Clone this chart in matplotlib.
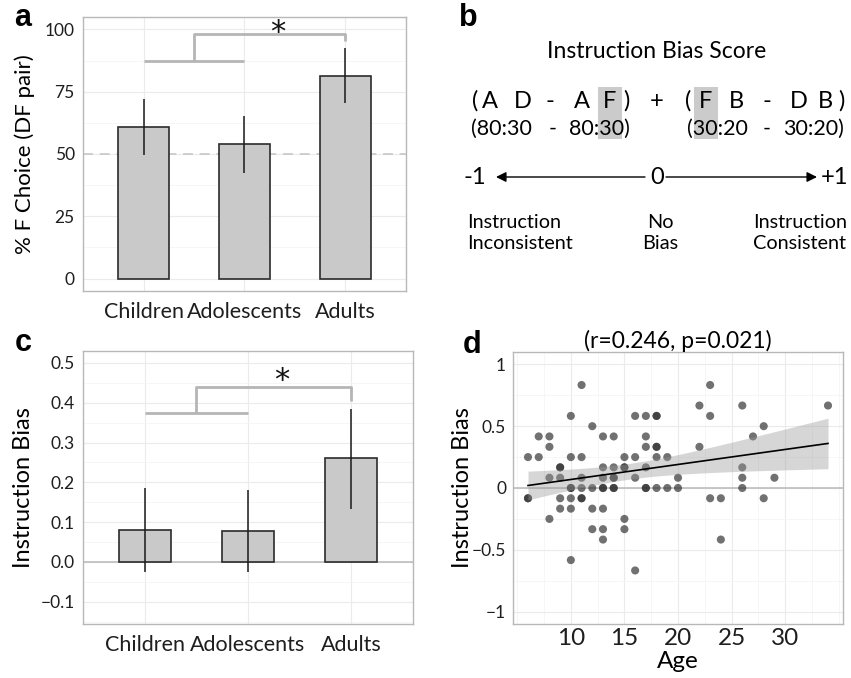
import matplotlib
matplotlib.use("Agg")
import matplotlib.pyplot as plt
from matplotlib.patches import Rectangle
from matplotlib.ticker import MultipleLocator
import numpy as np

plt.rcParams['font.family'] = ['Lato', 'DejaVu Sans']

# data
groups = ["Children", "Adolescents", "Adults"]

# panel a: % F choice (DF pair)
fchoice = [61, 54, 81.4]
fchoice_lo = [49.7, 42.4, 70.5]
fchoice_hi = [72.0, 65.3, 92.4]

# panel c: instruction bias by group
bias_mean = [0.080, 0.077, 0.261]
bias_lo = [-0.025, -0.025, 0.134]
bias_hi = [0.186, 0.180, 0.385]

# panel d: instruction bias vs age (one entry per participant)
age = [6, 6, 6,
       7, 7,
       8, 8, 8, 8,
       9, 9, 9, 9, 9,
       10, 10, 10, 10, 10, 10, 10,
       11, 11, 11, 11, 11, 11,
       12, 12, 12, 12,
       13, 13, 13, 13, 13, 13, 13, 13,
       14, 14, 14, 14, 14, 14,
       15, 15, 15, 15, 15,
       16, 16, 16, 16,
       17, 17, 17, 17, 17, 17,
       18, 18, 18, 18, 18, 18,
       19, 19,
       20, 20,
       22, 22,
       23, 23, 23,
       24, 24,
       26, 26, 26, 26,
       27,
       28, 28,
       29,
       34]
bias = [0.25, -0.083, -0.083,
        0.417, 0.25,
        0.417, 0.333, 0.083, -0.25,
        0.167, 0.167, 0.083, -0.083, -0.167,
        0.583, 0.25, 0.0, 0.0, -0.083, -0.167, -0.583,
        0.833, 0.25, 0.083, 0.0, -0.083, -0.083,
        0.5, 0.0, -0.167, -0.333,
        0.417, 0.167, 0.083, 0.0, 0.0, -0.167, -0.333, -0.417,
        0.417, 0.167, 0.083, 0.083, 0.0, 0.0,
        0.25, 0.167, 0.167, -0.25, -0.333,
        0.583, 0.25, 0.083, -0.667,
        0.583, 0.417, 0.333, 0.167, 0.0, 0.0,
        0.583, 0.583, 0.333, 0.333, 0.25, 0.0,
        0.25, 0.0,
        0.083, 0.0,
        0.667, 0.333,
        0.833, 0.583, -0.083,
        -0.083, -0.417,
        0.667, 0.167, 0.083, 0.0,
        0.417,
        0.5, -0.083,
        0.083,
        0.667]

W, H = 851, 678
fig = plt.figure(figsize=(W / 100, H / 100), dpi=100)


def box(l, t, r, b):
    return [l / W, 1 - b / H, (r - l) / W, (b - t) / H]


def style(ax):
    for s in ax.spines.values():
        s.set_color('#b8b8b8')
        s.set_linewidth(1)
    ax.grid(which='major', color='#ebebeb', lw=0.8)
    ax.grid(which='minor', color='#f5f5f5', lw=0.6)
    ax.set_axisbelow(True)
    ax.tick_params(which='both', length=0, colors='#1e1e1e')


def group_bars(ax, vals, lo, hi):
    x = np.arange(1, len(vals) + 1)
    ax.bar(x, vals, width=0.5, color='#c9c9c9', edgecolor='#2b2b2b', lw=1.2, zorder=2)
    err = [np.array(vals) - np.array(lo), np.array(hi) - np.array(vals)]
    ax.errorbar(x, vals, yerr=err, fmt='none', ecolor='#1a1a1a', elinewidth=1.1,
                capsize=0, zorder=3)
    ax.set_xlim(0.4, 3.6)
    ax.set_xticks(x)
    ax.set_xticklabels(groups, fontsize=15.5)
    ax.xaxis.set_minor_locator(MultipleLocator(1))
    ax.tick_params(axis='x', which='both', pad=8)
    ax.tick_params(axis='x', which='minor', labelbottom=False)
    ax.tick_params(axis='y', labelsize=12.5, pad=6)


def bracket(ax, y_low, y_high, y_drop, star_y):
    c = '#b5b5b5'
    ax.plot([1, 2], [y_low, y_low], color=c, lw=2, zorder=4, solid_capstyle='butt')
    ax.plot([1.5, 1.5, 3, 3], [y_low, y_high, y_high, y_drop], color=c, lw=2,
            zorder=4, solid_capstyle='butt')
    ax.text(2.33, star_y, '*', fontsize=22, ha='center', va='center',
            family='DejaVu Sans', color='#111111')


# ---- panel a
ax_a = fig.add_axes(box(83, 17, 406, 291))
style(ax_a)
group_bars(ax_a, fchoice, fchoice_lo, fchoice_hi)
ax_a.set_ylim(-5, 105)
ax_a.set_yticks([0, 25, 50, 75, 100])
ax_a.yaxis.set_minor_locator(MultipleLocator(12.5))
ax_a.axhline(50, color='#c8c8c8', lw=1.2, ls=(0, (6, 4)), zorder=1)
ax_a.set_ylabel('% F Choice (DF pair)', fontsize=16)
ax_a.yaxis.set_label_coords(-0.15, 0.5)
bracket(ax_a, 87.3, 98, 95.3, 98.6)

# ---- panel c
ax_c = fig.add_axes(box(83, 351, 413, 624))
style(ax_c)
group_bars(ax_c, bias_mean, bias_lo, bias_hi)
ax_c.set_ylim(-0.156, 0.53)
ax_c.set_yticks([-0.1, 0.0, 0.1, 0.2, 0.3, 0.4, 0.5])
ax_c.set_yticklabels(['\u22120.1', '0.0', '0.1', '0.2', '0.3', '0.4', '0.5'])
ax_c.yaxis.set_minor_locator(MultipleLocator(0.05))
ax_c.axhline(0, color='#bdbdbd', lw=1.2, zorder=1)
ax_c.set_ylabel('Instruction Bias', fontsize=17)
ax_c.yaxis.set_label_coords(-0.147, 0.5)
bracket(ax_c, 0.374, 0.44, 0.405, 0.457)

# ---- panel d
ax_d = fig.add_axes(box(513, 352, 843, 624))
style(ax_d)
ag = np.array(age, dtype=float)
bi = np.array(bias)
ax_d.scatter(ag, bi, s=34, color='#2e2e2e', alpha=0.68, edgecolors='none', zorder=3)
ax_d.axhline(0, color='#bdbdbd', lw=1.2, zorder=2)

# linear fit with 95% band
n = len(ag)
slope, inter = np.polyfit(ag, bi, 1)
resid = bi - (inter + slope * ag)
se = np.sqrt(np.sum(resid ** 2) / (n - 2))
xs = np.linspace(ag.min(), ag.max(), 100)
ys = inter + slope * xs
band = 1.99 * se * np.sqrt(1 / n + (xs - ag.mean()) ** 2 / np.sum((ag - ag.mean()) ** 2))
ax_d.fill_between(xs, ys - band, ys + band, color='#999999', alpha=0.4, lw=0, zorder=4)
ax_d.plot(xs, ys, color='black', lw=1.2, zorder=5)

ax_d.set_xlim(4.6, 35.4)
ax_d.set_ylim(-1.1, 1.1)
ax_d.set_xticks([10, 15, 20, 25, 30])
ax_d.set_yticks([-1, -0.5, 0, 0.5, 1])
ax_d.set_yticklabels(['\u22121', '\u22120.5', '0', '0.5', '1'])
ax_d.xaxis.set_minor_locator(MultipleLocator(2.5))
ax_d.yaxis.set_minor_locator(MultipleLocator(0.25))
ax_d.tick_params(axis='x', labelsize=17.5, pad=3)
ax_d.tick_params(axis='y', labelsize=12.5, pad=5)
ax_d.set_xlabel('Age', fontsize=17.5)
ax_d.xaxis.set_label_coords(0.5, -0.1)
ax_d.set_ylabel('Instruction Bias', fontsize=17)
ax_d.yaxis.set_label_coords(-0.12, 0.5)
ax_d.set_title('(r=0.246, p=0.021)', fontsize=16.5, pad=3)

# ---- panel b (diagram)
ax_b = fig.add_axes(box(430, 0, 851, 320))
ax_b.set_xlim(430, 851)
ax_b.set_ylim(320, 0)
ax_b.axis('off')
ax_b.text(657, 52, 'Instruction Bias Score', fontsize=16.5, ha='center', va='center')
ax_b.add_patch(Rectangle((598, 87), 24, 52, color='#cbcbcb', lw=0, zorder=1))
ax_b.add_patch(Rectangle((694, 87), 24, 52, color='#cbcbcb', lw=0, zorder=1))
line1 = [('(', 475), ('A', 490), ('D', 523), ('-', 550), ('A', 582), ('F', 610), (')', 626),
         ('+', 657), ('(', 688), ('F', 706), ('B', 736), ('-', 767), ('D', 799), ('B', 825),
         (')', 841)]
for ch, xx in line1:
    ax_b.text(xx, 101, ch, fontsize=17, ha='center', va='center', zorder=2)
line2 = [('(80:30', 471, 'left'), ('-', 553, 'center'), ('80:30)', 630, 'right'),
         ('(30:20', 687, 'left'), ('-', 767, 'center'), ('30:20)', 844, 'right')]
for s, xx, al in line2:
    ax_b.text(xx, 129, s, fontsize=15.5, ha=al, va='center', zorder=2)

ax_b.text(486, 177, '-1', fontsize=17, ha='right', va='center')
ax_b.text(657, 177, '0', fontsize=17, ha='center', va='center')
ax_b.text(821, 177, '+1', fontsize=17, ha='left', va='center')
ax_b.annotate('', xy=(496, 177), xytext=(645, 177),
              arrowprops=dict(arrowstyle='-|>', color='black', lw=1, mutation_scale=15,
                              shrinkA=0, shrinkB=0))
ax_b.annotate('', xy=(817, 177), xytext=(666, 177),
              arrowprops=dict(arrowstyle='-|>', color='black', lw=1, mutation_scale=15,
                              shrinkA=0, shrinkB=0))
ax_b.text(467, 233, 'Instruction\nInconsistent', fontsize=14.3, ha='left', va='center',
          linespacing=1.25)
ax_b.text(660, 233, 'No\nBias', fontsize=14.3, ha='center', va='center', linespacing=1.25)
ax_b.text(753, 233, 'Instruction\nConsistent', fontsize=14.3, ha='left', va='center',
          linespacing=1.25)

# panel letters
for lab, xx, yy in [('a', 23, 18), ('b', 468, 18), ('c', 23, 343), ('d', 472, 345)]:
    fig.text(xx / W, 1 - yy / H, lab, fontsize=22, fontweight='bold',
             family='Liberation Sans', ha='center', va='center')

fig.savefig('out.png', dpi=100)
